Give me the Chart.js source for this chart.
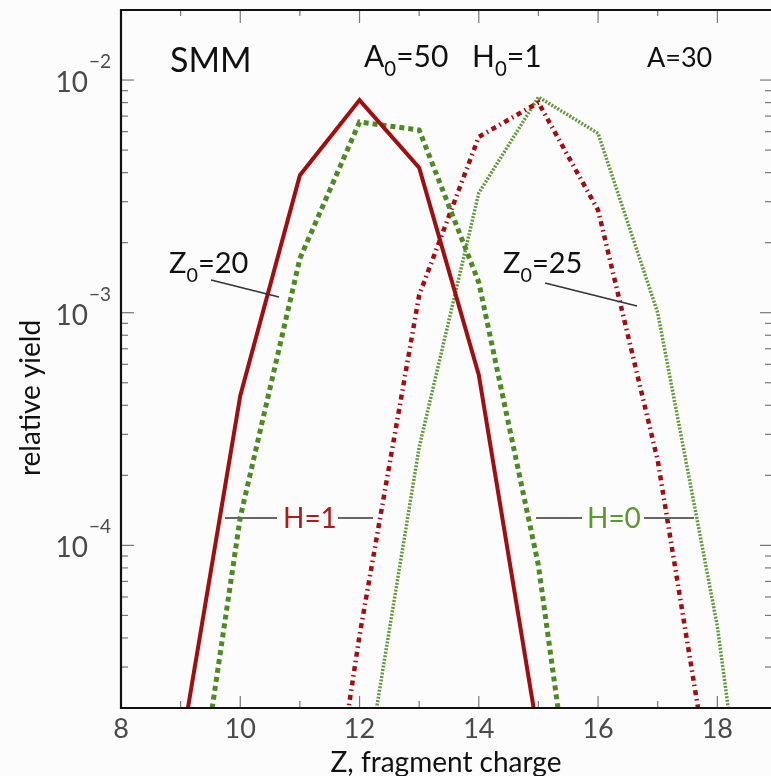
<!DOCTYPE html>
<html>
<head>
<meta charset="utf-8">
<script src="https://cdn.jsdelivr.net/npm/chart.js@4/dist/chart.umd.min.js"></script>
<style>
  body { margin: 0; background: #fcfcfc; }
  #wrap { width: 771px; height: 776px; }
</style>
</head>
<body>
<div id="wrap"><canvas id="yieldChart" width="771" height="776"></canvas></div>
<script>
// fragment charge Z and relative yields
const zSolid = [9, 10, 11, 12, 13, 14, 15];
const yieldSolid = [1.3e-5, 4.4e-4, 3.9e-3, 8.2e-3, 4.2e-3, 5.4e-4, 1.5e-5];        // Z0=20, H=1

const zThick = [9, 10, 11, 12, 13, 14, 15, 16];
const yieldThick = [2.4e-6, 1.32e-4, 1.71e-3, 6.6e-3, 6.1e-3, 1.35e-3, 8.2e-5, 1.1e-6]; // Z0=20, H=0

const zDashDot = [11, 12, 13, 14, 15, 16, 17, 18];
const yieldDashDot = [8.3e-7, 4.1e-5, 1.19e-3, 5.7e-3, 8.0e-3, 2.76e-3, 2.32e-4, 6.2e-6]; // Z0=25, H=1

const zThin = [12, 13, 14, 15, 16, 17, 18, 19];
const yieldThin = [7.1e-6, 2.64e-4, 3.27e-3, 8.45e-3, 5.9e-3, 1.0e-3, 4.5e-5, 5.4e-7];  // Z0=25, H=0

const xTicks = [8, 10, 12, 14, 16, 18];
const xMinorTicks = [9, 11, 13, 15, 17];
const yTicks = [1e-2, 1e-3, 1e-4];
const yTickExp = ['\u22122', '\u22123', '\u22124'];

const RED = '#a30d10';
const GREEN = '#4e8a22';
const GREEN_LIGHT = '#64983a';
const FONT = 'Lato, "Open Sans", sans-serif';

function toPoints(xs, ys) {
    return xs.map((x, i) => ({ x: x, y: ys[i] }));
}

// text with subscripts: parts = [[text, isSub], ...]
function drawSub(ctx, parts, x, y, size, color) {
    ctx.fillStyle = color;
    ctx.textAlign = 'left';
    ctx.textBaseline = 'alphabetic';
    let cx = x;
    parts.forEach(([t, sub]) => {
        const s = sub ? size * 0.68 : size;
        ctx.font = s + 'px ' + FONT;
        ctx.fillText(t, cx, sub ? y + size * 0.3 : y);
        cx += ctx.measureText(t).width;
    });
}

function line(ctx, x1, y1, x2, y2, color, w) {
    ctx.strokeStyle = color;
    ctx.lineWidth = w;
    ctx.beginPath();
    ctx.moveTo(x1, y1);
    ctx.lineTo(x2, y2);
    ctx.stroke();
}

const framePlugin = {
    id: 'frame',
    beforeDraw(chart) {
        const ctx = chart.ctx;
        ctx.save();
        ctx.fillStyle = '#fcfcfc';
        ctx.fillRect(0, 0, chart.width, chart.height);
        ctx.restore();
    },
    afterDatasetsDraw(chart) {
        const ctx = chart.ctx;
        const a = chart.chartArea;
        const xs = chart.scales.x;
        const ys = chart.scales.y;
        ctx.save();

        // x ticks, bottom and top
        const tickCol = '#777';
        xTicks.forEach(v => {
            const px = xs.getPixelForValue(v);
            line(ctx, px, a.bottom, px, a.bottom - 12, tickCol, 1.2);
            line(ctx, px, a.top, px, a.top + 13, tickCol, 1.2);
        });
        xMinorTicks.forEach(v => {
            const px = xs.getPixelForValue(v);
            line(ctx, px, a.bottom, px, a.bottom - 7, tickCol, 1.2);
            line(ctx, px, a.top, px, a.top + 6, tickCol, 1.2);
        });

        // y ticks, log decades with minors, left and right
        for (let e = -5; e <= -2; e++) {
            for (let m = 1; m <= 9; m++) {
                const v = m * Math.pow(10, e);
                if (v < ys.min || v > ys.max) continue;
                const py = ys.getPixelForValue(v);
                const len = m === 1 ? 13 : 7;
                line(ctx, a.left, py, a.left + len, py, tickCol, 1.2);
                line(ctx, a.right, py, a.right - (m === 1 ? 11 : 6), py, tickCol, 1.2);
            }
        }

        // frame
        ctx.strokeStyle = '#111';
        ctx.lineWidth = 2.2;
        ctx.beginPath();
        ctx.moveTo(a.right, a.top);
        ctx.lineTo(a.left, a.top);
        ctx.lineTo(a.left, a.bottom);
        ctx.lineTo(a.right, a.bottom);
        ctx.stroke();

        // tick labels
        ctx.fillStyle = '#4a4a4a';
        ctx.font = '27px ' + FONT;
        ctx.textAlign = 'center';
        ctx.textBaseline = 'alphabetic';
        xTicks.forEach(v => {
            ctx.fillText(String(v), xs.getPixelForValue(v), a.bottom + 30);
        });
        yTicks.forEach((v, i) => {
            const py = ys.getPixelForValue(v);
            ctx.font = '28px ' + FONT;
            ctx.textAlign = 'right';
            ctx.fillStyle = '#4a4a4a';
            ctx.fillText('10', 88, py + 12);
            ctx.font = '19px ' + FONT;
            ctx.textAlign = 'left';
            ctx.fillText(yTickExp[i], 89, py - 12);
        });

        // axis titles
        ctx.fillStyle = '#111';
        ctx.font = '28px ' + FONT;
        ctx.textAlign = 'center';
        ctx.fillText('Z, fragment charge', 446, 772);
        ctx.save();
        ctx.translate(40, 398);
        ctx.rotate(-Math.PI / 2);
        ctx.font = '28px ' + FONT;
        ctx.fillText('relative yield', 0, 0);
        ctx.restore();

        // annotations
        drawSub(ctx, [['SMM', 0]], 170, 72, 34, '#111');
        drawSub(ctx, [['A', 0], ['0', 1], ['=50', 0]], 364, 67, 30, '#111');
        drawSub(ctx, [['H', 0], ['0', 1], ['=1', 0]], 472, 67, 30, '#111');
        drawSub(ctx, [['A=30', 0]], 647, 67, 27, '#111');
        drawSub(ctx, [['Z', 0], ['0', 1], ['=20', 0]], 169, 273, 29, '#111');
        line(ctx, 211, 280, 279, 297, '#333', 1.4);
        drawSub(ctx, [['Z', 0], ['0', 1], ['=25', 0]], 503, 273, 29, '#111');
        line(ctx, 545, 283, 637, 306, '#333', 1.4);

        drawSub(ctx, [['H=1', 0]], 283, 528, 28, '#b01a1a');
        line(ctx, 225, 518, 277, 518, '#666', 2);
        line(ctx, 338, 518, 373, 518, '#666', 2);
        drawSub(ctx, [['H=0', 0]], 587, 528, 28, '#5a9a2a');
        line(ctx, 536, 518, 582, 518, '#666', 2);
        line(ctx, 644, 518, 694, 518, '#666', 2);

        ctx.restore();
    }
};

const lineBase = { pointRadius: 0, tension: 0, fill: false, clip: 0, borderCapStyle: 'butt' };

new Chart(document.getElementById('yieldChart'), {
    type: 'line',
    data: {
        datasets: [
            Object.assign({ label: 'Z0=20 H=1', data: toPoints(zSolid, yieldSolid),
                borderColor: RED, borderWidth: 4 }, lineBase),
            Object.assign({ label: 'Z0=20 H=0', data: toPoints(zThick, yieldThick),
                borderColor: GREEN, borderWidth: 5, borderDash: [5, 4] }, lineBase),
            Object.assign({ label: 'Z0=25 H=1', data: toPoints(zDashDot, yieldDashDot),
                borderColor: RED, borderWidth: 4.5, borderDash: [5, 4, 1.5, 4] }, lineBase),
            Object.assign({ label: 'Z0=25 H=0', data: toPoints(zThin, yieldThin),
                borderColor: GREEN_LIGHT, borderWidth: 3.5, borderDash: [2, 1.5] }, lineBase)
        ]
    },
    options: {
        responsive: false,
        animation: false,
        devicePixelRatio: 1,
        layout: { padding: { left: 121, top: 10, right: 0, bottom: 68 } },
        plugins: { legend: { display: false }, tooltip: { enabled: false } },
        scales: {
            x: { type: 'linear', min: 8, max: 18.9, display: false },
            y: { type: 'logarithmic', min: 2e-5, max: 2e-2, display: false }
        }
    },
    plugins: [framePlugin]
});
</script>
</body>
</html>
